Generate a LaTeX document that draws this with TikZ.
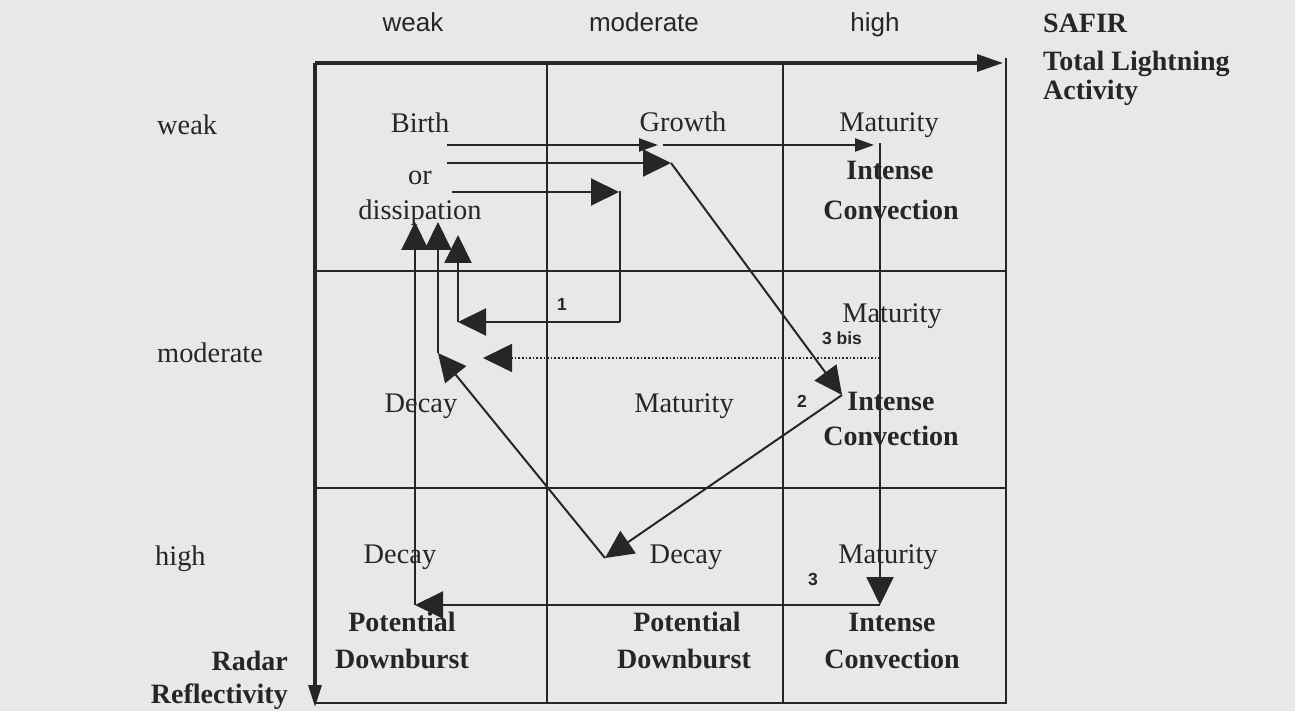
\documentclass[tikz,border=0pt]{standalone}
\usepackage{fontspec}
\setmainfont{Liberation Serif}
\newfontfamily\arialf{Liberation Sans}
\usetikzlibrary{arrows.meta}
\definecolor{bg}{HTML}{E8E8E6}
\definecolor{ink}{HTML}{262626}
\begin{document}
\begin{tikzpicture}[x=1pt,y=-1pt,
  every node/.style={inner sep=0pt, text=ink},
  cell/.style={anchor=base, font=\fontsize{28.4}{30}\selectfont},
  bcell/.style={anchor=base, font=\fontsize{28}{30}\selectfont\bfseries},
  lcell/.style={anchor=base west, font=\fontsize{28.4}{30}\selectfont},
  head/.style={anchor=base, font=\arialf\fontsize{26}{28}\selectfont},
  num/.style={anchor=base, font=\arialf\bfseries\fontsize{17.5}{19}\selectfont},
  gridline/.style={draw=ink, line width=2.4pt},
  axisline/.style={draw=ink, line width=3.2pt},
  flow/.style={draw=ink, line width=2pt},
  big/.style={flow, -{Triangle[length=28pt,width=27pt]}},
  small/.style={flow, -{Triangle[length=19pt,width=13pt]}},
  dotflow/.style={draw=ink, line width=1.6pt, dotted, -{Triangle[length=29pt,width=28pt]}},
]
\useasboundingbox (0,0) rectangle (1295,711);
\fill[bg] (0,0) rectangle (1295,711);

% frame and grid
\coordinate (TL) at (315,63);
\coordinate (TR) at (1003,63);
\coordinate (RT) at (1006,58);
\coordinate (BR) at (1006,703);
\coordinate (BL) at (315,703);
\coordinate (LB) at (315,707);
\draw[gridline] (547,63) -- (547,703);
\draw[gridline] (783,63) -- (783,703);
\draw[gridline] (315,271) -- (1006,271);
\draw[gridline] (315,488) -- (1006,488);
\draw[gridline] (RT) -- (BR) -- (BL);
\draw[axisline, -{Triangle[length=26pt,width=17pt]}] (TL) -- (TR);
\draw[axisline, -{Triangle[length=22pt,width=13pt]}] (TL) -- (LB);

% axis labels
\node[head] (hweak) at (413,32) {weak};
\node[head] (hmod) at (644,32) {moderate};
\node[head] (hhigh) at (875,32) {high};
\node[anchor=base west, font=\fontsize{28}{30}\selectfont\bfseries] (safir) at (1043,33) {SAFIR};
\node[anchor=base west, font=\fontsize{28}{30}\selectfont\bfseries] (tla1) at (1043,71) {Total Lightning};
\node[anchor=base west, font=\fontsize{28}{30}\selectfont\bfseries] (tla2) at (1043,100) {Activity};
\node[lcell] (rweak) at (157,135) {weak};
\node[lcell] (rmod) at (157,362) {moderate};
\node[lcell] (rhigh) at (155,565) {high};
\node[anchor=base east, font=\fontsize{28}{30}\selectfont\bfseries] (radar) at (288,670) {Radar};
\node[anchor=base east, font=\fontsize{28}{30}\selectfont\bfseries] (refl) at (288,703) {Reflectivity};

% cell texts
\node[cell] (birth) at (420,133) {Birth};
\node[cell] (or) at (420,185) {or};
\node[cell] (diss) at (420,220) {dissipation};
\node[cell] (growth) at (683,132) {Growth};
\node[cell] (mat1) at (889,132) {Maturity};
\node[bcell] (int1) at (890,180) {Intense};
\node[bcell] (con1) at (891,220) {Convection};
\node[cell] (dec2) at (421,412) {Decay};
\node[cell] (mat2) at (684,412) {Maturity};
\node[cell] (mat3) at (892,322) {Maturity};
\node[bcell] (int2) at (891,410) {Intense};
\node[bcell] (con2) at (891,445) {Convection};
\node[cell] (dec3) at (400,563) {Decay};
\node[bcell] (pot1) at (402,631) {Potential};
\node[bcell] (down1) at (402,668) {Downburst};
\node[cell] (dec4) at (686,563) {Decay};
\node[bcell] (pot2) at (687,631) {Potential};
\node[bcell] (down2) at (684,668) {Downburst};
\node[cell] (mat4) at (888,563) {Maturity};
\node[bcell] (int3) at (892,631) {Intense};
\node[bcell] (con3) at (892,668) {Convection};

% path labels
\node[num] (n1) at (562,310) {1};
\node[num] (n2) at (802,407) {2};
\node[num] (n3) at (813,585) {3};
\node[num] (n3b) at (842,344) {3 bis};

% path 3
\coordinate (s3) at (447,145);
\coordinate (g3) at (658,145);
\coordinate (g3b) at (663,145);
\coordinate (m3) at (874,145);
\coordinate (m3t) at (880,143);
\coordinate (c3) at (880,605);
\coordinate (d3) at (415,605);
\coordinate (e3) at (415,222);
\draw[small] (s3) -- (g3);
\draw[small] (g3b) -- (m3);
\draw[big] (m3t) -- (c3);
\draw[big] (c3) -- (d3);
\draw[big] (d3) -- (e3);

% path 2
\coordinate (s2) at (447,163);
\coordinate (g2) at (671,163);
\coordinate (i2) at (842,395);
\coordinate (dc2) at (605,558);
\coordinate (dm2) at (438,353);
\coordinate (e2) at (438,222);
\draw[big] (s2) -- (g2);
\draw[big] (g2) -- (i2);
\draw[big] (i2) -- (dc2);
\draw[big] (dc2) -- (dm2);
\draw[big] (dm2) -- (e2);

% path 1
\coordinate (s1) at (452,192);
\coordinate (g1) at (619,192);
\coordinate (g1c) at (620,191);
\coordinate (k1) at (620,322);
\coordinate (l1) at (458,322);
\coordinate (e1) at (458,235);
\draw[big] (s1) -- (g1);
\draw[flow] (g1c) -- (k1);
\draw[big] (k1) -- (l1);
\draw[big] (l1) -- (e1);

% path 3 bis
\coordinate (db) at (880,358);
\coordinate (dl) at (483,358);
\draw[dotflow] (db) -- (dl);
\end{tikzpicture}
\end{document}
